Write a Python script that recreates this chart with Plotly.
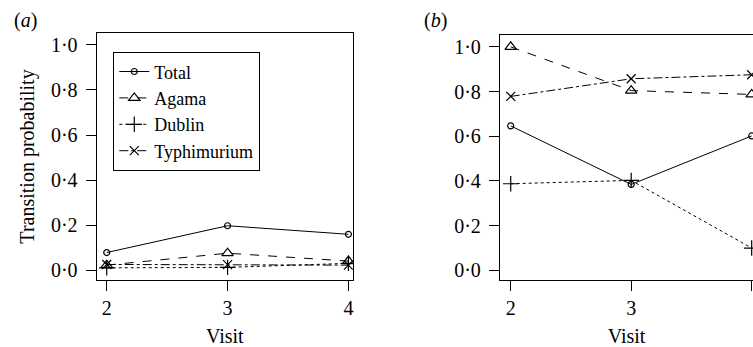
import plotly.graph_objects as go

visits = [2, 3, 4]
series_names = ["Total", "Agama", "Dublin", "Typhimurium"]

# Panel (a)
a_total = [0.078, 0.197, 0.159]
a_agama = [0.022, 0.075, 0.040]
a_dublin = [0.010, 0.012, 0.030]
a_typhi = [0.025, 0.024, 0.022]

# Panel (b)
b_total = [0.646, 0.384, 0.601]
b_agama = [1.000, 0.804, 0.787]
b_dublin = [0.387, 0.402, 0.099]
b_typhi = [0.778, 0.857, 0.875]

y_tickvals = [0, 0.2, 0.4, 0.6, 0.8, 1.0]
y_ticktext = ["0·0", "0·2", "0·4", "0·6", "0·8", "1·0"]

FONT = "Liberation Serif, Times New Roman, serif"
FS = 20
styles = {
    "Total": dict(dash="solid", symbol="circle-open", size=6),
    "Agama": dict(dash="dash", symbol="triangle-up-open", size=10),
    "Dublin": dict(dash="dot", symbol="cross-thin-open", size=11),
    "Typhimurium": dict(dash="dashdot", symbol="x-thin-open", size=9),
}

fig = go.Figure()
panel_a = [a_total, a_agama, a_dublin, a_typhi]
panel_b = [b_total, b_agama, b_dublin, b_typhi]
for name, ya in zip(series_names, panel_a):
    s = styles[name]
    fig.add_trace(go.Scatter(
        x=visits, y=ya, name=name, mode="lines+markers", xaxis="x", yaxis="y",
        line=dict(color="black", width=1, dash=s["dash"]),
        marker=dict(symbol=s["symbol"], size=s["size"], color="black",
                    line=dict(color="black", width=1.2)),
        showlegend=True,
    ))
for name, yb in zip(series_names, panel_b):
    s = styles[name]
    fig.add_trace(go.Scatter(
        x=visits, y=yb, name=name, mode="lines+markers", xaxis="x2", yaxis="y2",
        line=dict(color="black", width=1, dash=s["dash"]),
        marker=dict(symbol=s["symbol"], size=s["size"], color="black",
                    line=dict(color="black", width=1.2)),
        showlegend=False,
    ))

tfont = dict(family=FONT, size=FS, color="black")
common_x = dict(
    tickvals=visits, ticktext=[str(v) for v in visits],
    ticks="outside", ticklen=10, tickwidth=1.3, tickcolor="black",
    showline=True, linecolor="black", linewidth=1.3,
    showgrid=False, zeroline=False, automargin=False,
    tickfont=tfont,
    title=dict(text="Visit", font=tfont, standoff=14),
)
common_y = dict(
    tickvals=y_tickvals, ticktext=y_ticktext,
    ticks="outside", ticklen=10, tickwidth=1.3, tickcolor="black",
    showline=True, linecolor="black", linewidth=1.3,
    showgrid=False, zeroline=False, range=[-0.044, 1.053], automargin=False,
    tickfont=tfont, ticklabelstandoff=4,
)

W, H = 753, 347
fig.update_layout(
    width=W, height=H,
    margin=dict(l=0, r=0, t=0, b=0, autoexpand=False),
    paper_bgcolor="white", plot_bgcolor="white",
    font=tfont,
    xaxis=dict(domain=[96.7 / W, 353 / W], range=[1.917, 4.038], anchor="y",
               mirror=True, **common_x),
    yaxis=dict(domain=[1 - 280 / H, 1 - 33 / H], anchor="x", mirror=True,
               title=dict(text="Transition probability", font=tfont, standoff=10),
               **common_y),
    xaxis2=dict(domain=[500 / W, 1.0], range=[1.911, 4.011], anchor="y2",
                mirror=True, **common_x),
    yaxis2=dict(domain=[1 - 280 / H, 1 - 35 / H], anchor="x2", mirror=False,
                **common_y),
    legend=dict(x=113 / W, y=1 - 52 / H, xanchor="left", yanchor="top",
                bordercolor="black", borderwidth=1.3, bgcolor="white",
                font=dict(family=FONT, size=18, color="black"),
                tracegroupgap=0, itemwidth=30),
    showlegend=True,
    annotations=[
        dict(text="(<i>a</i>)", x=26 / W, y=1 - 20 / H, xref="paper", yref="paper",
             xanchor="center", yanchor="middle",
             showarrow=False, font=tfont),
        dict(text="(<i>b</i>)", x=435 / W, y=1 - 20 / H, xref="paper", yref="paper",
             xanchor="center", yanchor="middle",
             showarrow=False, font=tfont),
    ],
)

fig.write_html(
    "out.html",
    config={"displayModeBar": False},
    post_script="document.body.style.margin='0';document.body.style.overflow='hidden';",
)
